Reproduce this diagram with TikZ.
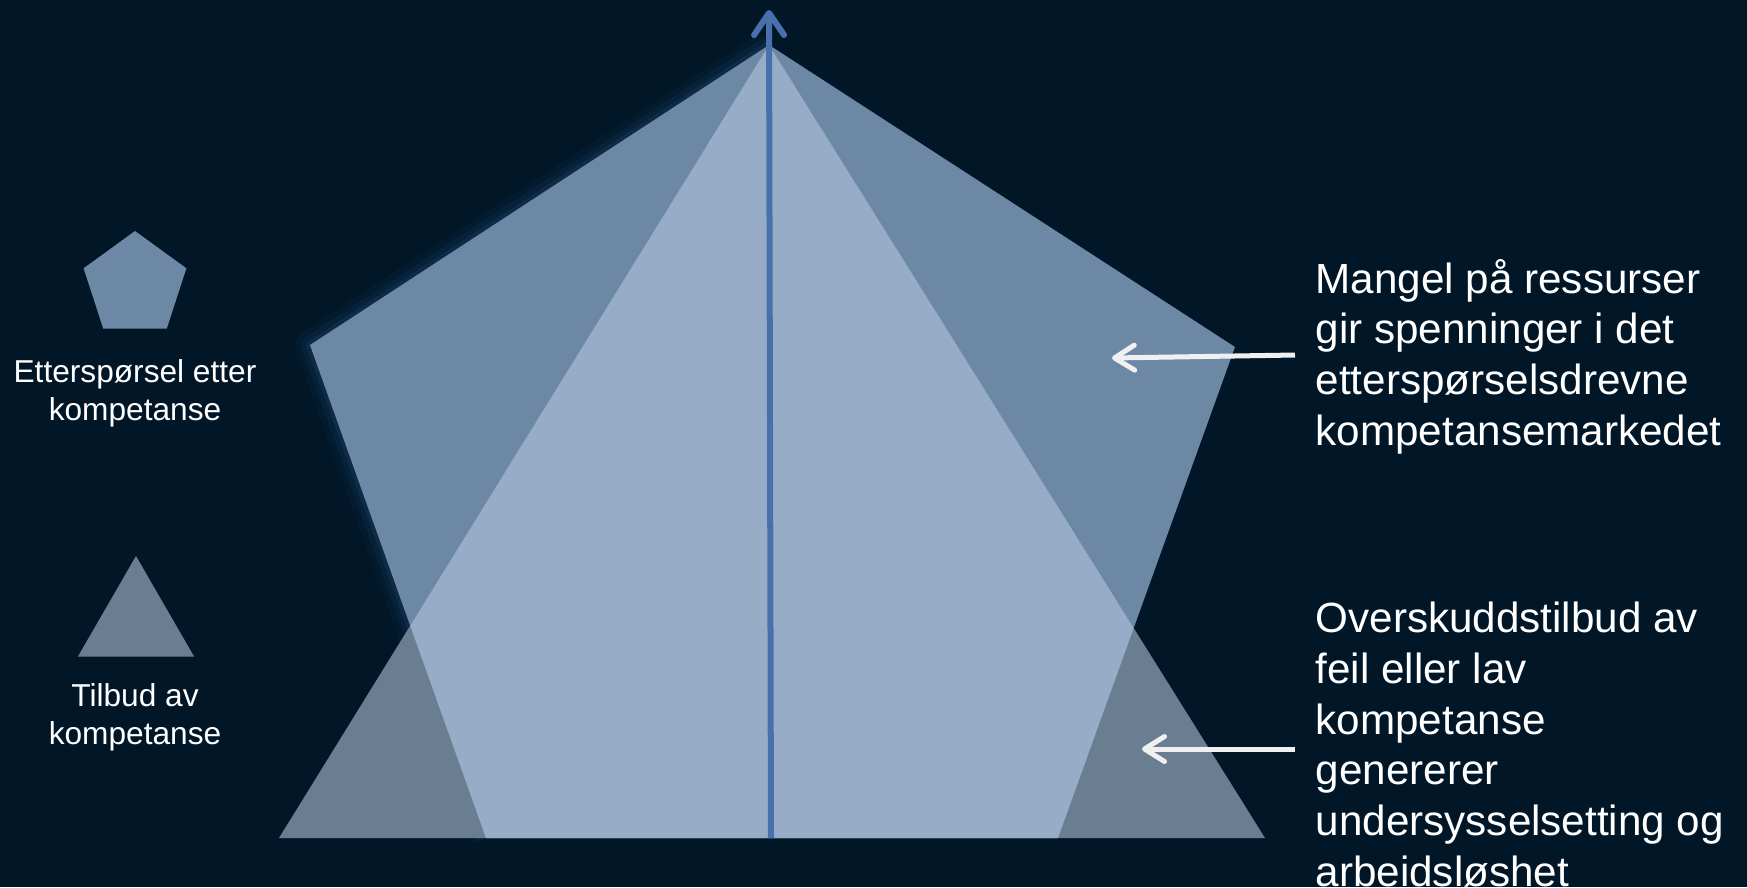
\documentclass[tikz,border=0pt]{standalone}
\usepackage{fontspec}
\setmainfont{Liberation Sans}
\usetikzlibrary{arrows.meta,shapes.geometric}

\definecolor{bgnavy}{RGB}{1,23,40}
\definecolor{demand}{RGB}{108,136,165}
\definecolor{supply}{RGB}{106,126,146}
\definecolor{overlap}{RGB}{151,173,199}
\definecolor{axisblue}{RGB}{72,112,170}
\definecolor{glowblue}{RGB}{50,100,150}

\tikzset{
  note/.style={text=white, font=\fontsize{12}{14.4}\selectfont, align=left,
    inner sep=0pt, anchor=base west},
  legtext/.style={text=white, font=\fontsize{9}{10.75}\selectfont, align=center,
    inner sep=0pt, anchor=base},
  legshape/.style={regular polygon, inner sep=0pt, draw=none},
  pointer/.style={draw=white!94!black, line width=0.05cm,
    -{Straight Barb[length=0.2cm,width=0.25cm,round]}},
}

\begin{document}
\begin{tikzpicture}[x=0.01cm, y=-0.01cm]
  \useasboundingbox[fill=bgnavy] (0,0) rectangle (1747,887);

  % demand pentagon and supply triangle
  \coordinate (apex) at (769,45);
  \coordinate (pl) at (310,345);
  \coordinate (pr) at (1235,347);
  \coordinate (pbl) at (486,838);
  \coordinate (pbr) at (1058,838);
  \coordinate (tl) at (279,838);
  \coordinate (tr) at (1265,838);

  \draw[glowblue, opacity=0.06, line width=0.3cm, line join=round] (pbl) -- (pl) -- (apex);
  \draw[glowblue, opacity=0.1, line width=0.18cm, line join=round] (pbl) -- (pl) -- (apex);
  \draw[glowblue, opacity=0.15, line width=0.08cm, line join=round] (pbl) -- (pl) -- (apex);

  \fill[demand] (apex) -- (pr) -- (pbr) -- (pbl) -- (pl) -- cycle;
  \fill[supply] (apex) -- (tr) -- (tl) -- cycle;
  \begin{scope}
    \clip (apex) -- (pr) -- (pbr) -- (pbl) -- (pl) -- cycle;
    \fill[overlap] (apex) -- (tr) -- (tl) -- cycle;
  \end{scope}

  % vertical axis
  \coordinate (axisFoot) at (771,838);
  \coordinate (axisTop) at (769,10);
  \draw[axisblue, line width=0.06cm,
    -{Straight Barb[length=0.22cm,width=0.3cm,round]}] (axisFoot) -- (axisTop);

  % legend (base anchor sits on the last line)
  \node[legshape, regular polygon sides=5, minimum size=1.08cm, fill=demand]
    (legDemand) at (135,285) {};
  \node[legtext] (legDemandText) at (135,420) {Etterspørsel etter\\kompetanse};
  \node[legshape, regular polygon sides=3, minimum size=1.34cm, fill=supply]
    (legSupply) at (136,623) {};
  \node[legtext] (legSupplyText) at (135,744) {Tilbud av\\kompetanse};

  % notes on the right
  \node[note] (shortage) at (1315,445)
    {Mangel på ressurser\\gir spenninger i det\\etterspørselsdrevne\\kompetansemarkedet};
  \node[note] (surplus) at (1315,886)
    {Overskuddstilbud av\\feil eller lav\\kompetanse\\genererer\\undersysselsetting og\\arbeidsløshet};

  \coordinate (shortageTail) at (1295,355);
  \coordinate (shortageTip) at (1112,358);
  \draw[pointer] (shortageTail) -- (shortageTip);
  \coordinate (surplusTail) at (1295,749);
  \coordinate (surplusTip) at (1142,749);
  \draw[pointer] (surplusTail) -- (surplusTip);
\end{tikzpicture}
\end{document}
